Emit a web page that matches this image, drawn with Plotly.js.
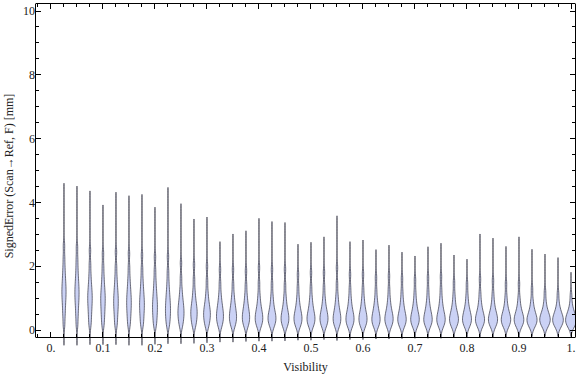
<!DOCTYPE html>
<html>
<head>
<meta charset="utf-8">
<script src="https://cdn.plot.ly/plotly-3.0.1.min.js"></script>
<style>html,body{margin:0;padding:0;background:#fff;}#chart{width:576px;height:377px;}</style>
</head>
<body>
<div id="chart"></div>
<script>
// Violin positions (Visibility)
const visibility = [0.025, 0.05, 0.075, 0.1, 0.125, 0.15, 0.175, 0.2, 0.225, 0.25,
  0.275, 0.3, 0.325, 0.35, 0.375, 0.4, 0.425, 0.45, 0.475, 0.5,
  0.525, 0.55, 0.575, 0.6, 0.625, 0.65, 0.675, 0.7, 0.725, 0.75,
  0.775, 0.8, 0.825, 0.85, 0.875, 0.9, 0.925, 0.95, 0.975, 1.0];

// Upper end of each violin (max signed error, mm)
const maxError = [4.6, 4.51, 4.36, 3.92, 4.32, 4.21, 4.25, 3.85, 4.47, 3.96,
  3.48, 3.54, 2.77, 3.01, 3.11, 3.5, 3.4, 3.37, 2.69, 2.75,
  2.92, 3.58, 2.77, 2.82, 2.52, 2.66, 2.44, 2.32, 2.61, 2.72,
  2.35, 2.22, 3.01, 2.88, 2.62, 2.92, 2.53, 2.38, 2.27, 1.81];

// Lower end of each violin (min signed error, mm)
const minError = [-0.48, -0.48, -0.46, -0.46, -0.46, -0.48, -0.48, -0.45, -0.43, -0.43,
  -0.42, -0.4, -0.38, -0.38, -0.36, -0.35, -0.35, -0.34, -0.32, -0.32,
  -0.3, -0.33, -0.3, -0.3, -0.28, -0.28, -0.27, -0.26, -0.26, -0.26,
  -0.24, -0.24, -0.24, -0.23, -0.22, -0.22, -0.2, -0.2, -0.2, -0.2];

// Representative error samples for each violin body
const errorSamples = [
  [0.15, 0.42, 0.62, 0.8, 0.95, 1.08, 1.2, 1.32, 1.45, 1.6, 1.78, 2.0, 2.28, 2.65],
  [0.14, 0.4, 0.6, 0.78, 0.92, 1.05, 1.17, 1.29, 1.42, 1.57, 1.75, 1.98, 2.25, 2.6],
  [0.13, 0.33, 0.5, 0.65, 0.78, 0.9, 1.01, 1.12, 1.24, 1.38, 1.55, 1.78, 2.08, 2.5],
  [0.13, 0.32, 0.48, 0.62, 0.75, 0.87, 0.98, 1.09, 1.21, 1.35, 1.52, 1.74, 2.02, 2.4],
  [0.12, 0.3, 0.46, 0.6, 0.72, 0.83, 0.94, 1.05, 1.17, 1.31, 1.48, 1.7, 2.0, 2.45],
  [0.12, 0.3, 0.45, 0.58, 0.7, 0.81, 0.92, 1.03, 1.15, 1.29, 1.46, 1.68, 1.98, 2.4],
  [0.12, 0.28, 0.42, 0.55, 0.66, 0.77, 0.87, 0.98, 1.1, 1.24, 1.41, 1.63, 1.93, 2.35],
  [0.11, 0.26, 0.39, 0.51, 0.62, 0.72, 0.82, 0.93, 1.05, 1.19, 1.36, 1.58, 1.88, 2.3],
  [0.11, 0.25, 0.37, 0.48, 0.58, 0.68, 0.78, 0.89, 1.01, 1.15, 1.32, 1.55, 1.85, 2.3],
  [0.1, 0.22, 0.33, 0.42, 0.5, 0.58, 0.66, 0.75, 0.85, 0.97, 1.12, 1.33, 1.65, 2.1],
  [0.1, 0.21, 0.31, 0.4, 0.48, 0.55, 0.63, 0.71, 0.8, 0.92, 1.07, 1.28, 1.6, 2.05],
  [0.1, 0.2, 0.3, 0.38, 0.45, 0.52, 0.59, 0.67, 0.76, 0.87, 1.02, 1.23, 1.55, 2.0],
  [0.1, 0.2, 0.28, 0.35, 0.42, 0.49, 0.56, 0.64, 0.73, 0.84, 0.98, 1.18, 1.48, 1.9],
  [0.1, 0.19, 0.27, 0.34, 0.4, 0.47, 0.54, 0.62, 0.71, 0.82, 0.96, 1.15, 1.45, 1.9],
  [0.1, 0.18, 0.26, 0.33, 0.39, 0.45, 0.52, 0.6, 0.69, 0.8, 0.94, 1.13, 1.42, 1.85],
  [0.1, 0.18, 0.25, 0.31, 0.37, 0.43, 0.5, 0.57, 0.66, 0.78, 0.93, 1.15, 1.48, 1.95],
  [0.1, 0.18, 0.25, 0.31, 0.36, 0.42, 0.48, 0.55, 0.64, 0.76, 0.91, 1.12, 1.45, 1.9],
  [0.1, 0.17, 0.24, 0.3, 0.36, 0.42, 0.48, 0.55, 0.64, 0.75, 0.9, 1.1, 1.42, 1.9],
  [0.1, 0.17, 0.24, 0.3, 0.35, 0.41, 0.47, 0.54, 0.62, 0.73, 0.87, 1.06, 1.35, 1.75],
  [0.1, 0.17, 0.24, 0.3, 0.35, 0.41, 0.47, 0.54, 0.63, 0.74, 0.88, 1.07, 1.36, 1.8],
  [0.1, 0.17, 0.24, 0.3, 0.35, 0.41, 0.47, 0.54, 0.62, 0.73, 0.87, 1.06, 1.36, 1.8],
  [0.1, 0.17, 0.24, 0.3, 0.36, 0.42, 0.48, 0.56, 0.65, 0.77, 0.92, 1.13, 1.46, 1.95],
  [0.1, 0.17, 0.23, 0.29, 0.34, 0.4, 0.46, 0.53, 0.61, 0.72, 0.86, 1.05, 1.33, 1.75],
  [0.1, 0.17, 0.23, 0.29, 0.34, 0.4, 0.46, 0.53, 0.61, 0.72, 0.86, 1.04, 1.32, 1.75],
  [0.1, 0.17, 0.23, 0.28, 0.33, 0.39, 0.45, 0.52, 0.6, 0.7, 0.83, 1.0, 1.27, 1.65],
  [0.1, 0.17, 0.23, 0.29, 0.34, 0.39, 0.45, 0.52, 0.6, 0.7, 0.84, 1.02, 1.3, 1.7],
  [0.1, 0.17, 0.23, 0.28, 0.33, 0.38, 0.44, 0.51, 0.59, 0.69, 0.82, 0.99, 1.25, 1.62],
  [0.1, 0.17, 0.23, 0.28, 0.33, 0.38, 0.44, 0.5, 0.58, 0.68, 0.8, 0.97, 1.22, 1.58],
  [0.1, 0.17, 0.23, 0.28, 0.33, 0.38, 0.44, 0.51, 0.59, 0.69, 0.82, 1.0, 1.27, 1.65],
  [0.1, 0.17, 0.23, 0.28, 0.33, 0.38, 0.44, 0.51, 0.59, 0.69, 0.83, 1.01, 1.29, 1.68],
  [0.1, 0.17, 0.22, 0.27, 0.32, 0.37, 0.42, 0.48, 0.55, 0.64, 0.76, 0.92, 1.15, 1.5],
  [0.1, 0.17, 0.22, 0.27, 0.32, 0.37, 0.42, 0.48, 0.55, 0.63, 0.74, 0.9, 1.12, 1.45],
  [0.1, 0.17, 0.22, 0.27, 0.31, 0.36, 0.41, 0.47, 0.54, 0.63, 0.75, 0.92, 1.18, 1.6],
  [0.1, 0.17, 0.22, 0.27, 0.31, 0.36, 0.41, 0.47, 0.54, 0.62, 0.74, 0.9, 1.15, 1.55],
  [0.1, 0.16, 0.21, 0.26, 0.3, 0.35, 0.4, 0.45, 0.51, 0.59, 0.7, 0.85, 1.08, 1.45],
  [0.1, 0.16, 0.21, 0.26, 0.3, 0.34, 0.39, 0.44, 0.5, 0.58, 0.68, 0.83, 1.05, 1.45],
  [0.1, 0.16, 0.21, 0.25, 0.29, 0.33, 0.37, 0.42, 0.48, 0.55, 0.64, 0.77, 0.96, 1.3],
  [0.1, 0.16, 0.21, 0.25, 0.29, 0.33, 0.37, 0.41, 0.46, 0.52, 0.6, 0.72, 0.9, 1.2],
  [0.1, 0.16, 0.2, 0.24, 0.28, 0.32, 0.36, 0.4, 0.45, 0.51, 0.58, 0.69, 0.86, 1.15],
  [0.1, 0.15, 0.19, 0.23, 0.27, 0.31, 0.35, 0.39, 0.44, 0.49, 0.56, 0.66, 0.82, 1.1]
];

// Tick labels
const xTickVals = [0, 0.1, 0.2, 0.3, 0.4, 0.5, 0.6, 0.7, 0.8, 0.9, 1.0];
const xTickText = ['0.', '0.1', '0.2', '0.3', '0.4', '0.5', '0.6', '0.7', '0.8', '0.9', '1.'];
const yTickVals = [0, 2, 4, 6, 8, 10];
const yTickText = ['0', '2', '4', '6', '8', '10'];
const yMinorVals = [0.5, 1, 1.5, 2.5, 3, 3.5, 4.5, 5, 5.5, 6.5, 7, 7.5, 8.5, 9, 9.5];

const FONT = 'Liberation Serif, Times New Roman, serif';
const TXT = '#222';

const traces = visibility.map((v, i) => ({
  type: 'violin',
  x: errorSamples[i].map(() => v),
  y: errorSamples[i],
  span: [minError[i], maxError[i]],
  spanmode: 'manual',
  bandwidth: 0.15,
  scalegroup: 'all',
  scalemode: 'count',
  side: 'both',
  points: false,
  box: {visible: false},
  meanline: {visible: false},
  fillcolor: 'rgb(203,210,245)',
  line: {color: 'rgba(55,55,70,0.8)', width: 0.9},
  hoverinfo: 'skip',
  showlegend: false
}));

const plotH = 377 - 4 - 29;
const axisPos = 11 / plotH;
const plotW = 576 - 36 - 1;

const layout = {
  width: 576, height: 377,
  margin: {l: 36, r: 1, t: 4, b: 29, pad: 0},
  paper_bgcolor: '#fff', plot_bgcolor: '#fff',
  violinmode: 'overlay',
  violingap: 0.17,
  violingroupgap: 0,
  showlegend: false,
  font: {family: FONT, size: 12, color: TXT},
  xaxis: {
    range: [-0.0288, 1.0077],
    anchor: 'free', position: axisPos,
    showline: true, linecolor: '#000', linewidth: 1,
    zeroline: false, showgrid: false,
    tickmode: 'array', tickvals: xTickVals, ticktext: xTickText,
    ticks: 'inside', ticklen: 5, tickcolor: '#000', tickwidth: 1,
    minor: {ticks: 'inside', dtick: 0.025, tick0: 0, ticklen: 3, tickcolor: '#000', tickwidth: 1},
    tickfont: {family: FONT, size: 12, color: TXT},
    title: {text: 'Visibility', font: {family: FONT, size: 12, color: TXT}, standoff: 8}
  },
  xaxis2: {
    range: [-0.0288, 1.0077],
    overlaying: 'x', side: 'top', anchor: 'y',
    showline: true, linecolor: '#000', linewidth: 1,
    zeroline: false, showgrid: false, showticklabels: false,
    tickmode: 'array', tickvals: xTickVals,
    ticks: 'inside', ticklen: 5, tickcolor: '#000', tickwidth: 1,
    minor: {ticks: 'inside', dtick: 0.025, tick0: 0, ticklen: 3, tickcolor: '#000', tickwidth: 1}
  },
  yaxis: {
    range: [-18 / 31.9, 326 / 31.9],
    anchor: 'x',
    showline: false, mirror: 'ticks',
    zeroline: false, showgrid: false,
    tickmode: 'array', tickvals: yTickVals, ticktext: yTickText,
    ticks: 'inside', ticklen: 5, tickcolor: '#000', tickwidth: 1,
    minor: {ticks: 'inside', tickmode: 'array', tickvals: yMinorVals, ticklen: 3, tickcolor: '#000', tickwidth: 1},
    tickfont: {family: FONT, size: 12, color: TXT},
    title: {text: 'SignedError (Scan\u2192Ref, F) [mm]', font: {family: FONT, size: 12, color: TXT}, standoff: 6}
  },
  shapes: [
    {type: 'line', xref: 'paper', yref: 'paper', x0: -0.5 / plotW, x1: -0.5 / plotW, y0: axisPos - 0.5 / plotH, y1: 1 + 0.5 / plotH, line: {color: '#000', width: 1}},
    {type: 'line', xref: 'paper', yref: 'paper', x0: 1 + 0.5 / plotW, x1: 1 + 0.5 / plotW, y0: axisPos - 0.5 / plotH, y1: 1 + 0.5 / plotH, line: {color: '#000', width: 1}}
  ]
};

// empty trace that activates the top frame axis
traces.push({type: 'scatter', x: [], y: [], xaxis: 'x2', yaxis: 'y', hoverinfo: 'skip', showlegend: false});

Plotly.newPlot('chart', traces, layout, {displayModeBar: false, staticPlot: true});
</script>
</body>
</html>
